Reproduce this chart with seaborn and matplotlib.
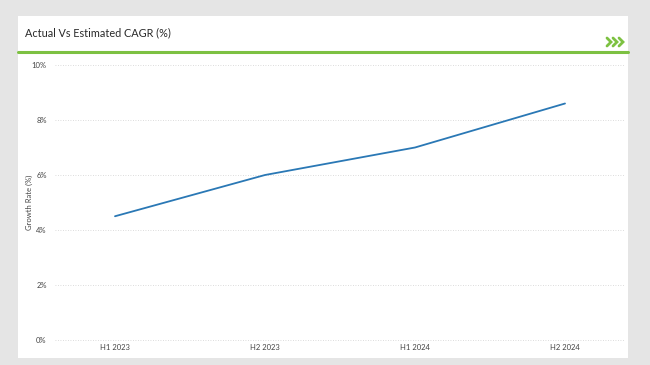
import matplotlib
matplotlib.use("Agg")
import matplotlib.pyplot as plt
import seaborn as sns
import pandas as pd
from matplotlib.patches import Rectangle
from matplotlib.lines import Line2D
from matplotlib.ticker import FuncFormatter

periods = ["H1 2023", "H2 2023", "H1 2024", "H2 2024"]
growth = [4.5, 6.0, 7.0, 8.6]

df = pd.DataFrame({"period": periods, "growth": growth})

sns.set_theme(style="white")
plt.rcParams["font.family"] = ["Lato", "DejaVu Sans"]

W, H = 650, 365
fig = plt.figure(figsize=(6.5, 3.65), dpi=100)
fig.patch.set_facecolor("#e5e5e5")

# white card
fig.patches.append(Rectangle((18 / W, 1 - 358 / H), 610 / W, 342 / H,
                             transform=fig.transFigure, facecolor="white",
                             edgecolor="none", zorder=-10))
# green separator
fig.add_artist(Line2D([18 / W, 628 / W], [1 - 52 / H, 1 - 52 / H],
                      transform=fig.transFigure, color="#7dc142", lw=2.2))
# chevrons
for i in range(3):
    x0 = 607 + i * 6
    fig.add_artist(Line2D([x0 / W, (x0 + 4) / W, x0 / W],
                          [1 - 38 / H, 1 - 42 / H, 1 - 46 / H],
                          transform=fig.transFigure, color="#7dc142", lw=2.0,
                          solid_joinstyle="miter"))

fig.text(25 / W, 1 - 33 / H, "Actual Vs Estimated CAGR (%)", fontsize=7.8,
         color="#2a2a2a", va="center", ha="left")

ax = fig.add_axes([55 / W, 25 / H, 570 / W, 275 / H])
ax.set_facecolor("none")
sns.lineplot(data=df, x="period", y="growth", ax=ax, color="#2a78b5",
             linewidth=1.3, sort=False)

ax.set_ylim(0, 10)
ax.set_xlim(-0.4, 3.4)
ax.set_yticks([0, 2, 4, 6, 8, 10])
ax.yaxis.set_major_formatter(FuncFormatter(lambda v, p: f"{v:.0f}%"))
ax.grid(axis="y", color="#d0d0d0", linestyle=(0, (1, 2)), linewidth=0.6)
for line in ax.get_ygridlines():
    line.set_clip_on(False)
for s in ax.spines.values():
    s.set_visible(False)
ax.tick_params(axis="both", labelsize=5.5, colors="#444444", length=0)
ax.tick_params(axis="y", pad=6)
ax.tick_params(axis="x", pad=3)
ax.set_xlabel("")
ax.set_ylabel("Growth Rate (%)", fontsize=5.5, color="#444444")
ax.yaxis.set_label_coords(-22 / 570, 0.5)

fig.savefig("out.png", dpi=100, facecolor=fig.get_facecolor())
